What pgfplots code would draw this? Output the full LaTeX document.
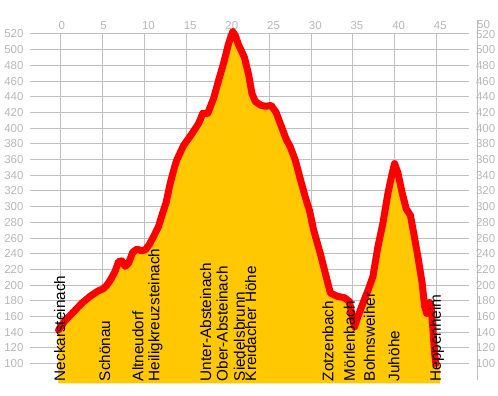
\documentclass[border=0pt]{standalone}
\usepackage{pgfplots}
\pgfplotsset{compat=1.18}
\usepackage{pgfplotstable}
\usepackage{fontspec}
\setmainfont{Liberation Sans}
\definecolor{gridc}{RGB}{192,192,192}
\definecolor{labc}{RGB}{184,184,184}
\definecolor{fillc}{RGB}{255,200,0}
\definecolor{linec}{RGB}{255,0,0}
\pgfplotstableread{
km elev
-0.3 143
0.5 155
1.5 166
2.5 177
3.5 186
4.5 193
5.0 195
5.5 200
6.0 208
6.5 218
6.9 230
7.3 231
7.7 224
8.1 228
8.6 242
9.1 246
9.6 244
10.1 245
10.6 252
11.1 262
11.7 275
12.1 289
12.6 305
13.1 330
13.6 350
13.9 360
14.7 378
15.7 393
16.5 406
17.0 419
17.6 419
18.3 438
18.9 461
19.5 483
20.1 508
20.6 523
20.9 518
21.3 506
22.0 490
22.5 468
22.9 444
23.3 434
24.0 429
24.6 428
25.2 429
25.8 420
26.4 403
27.0 386
27.5 376
28.1 359
28.7 335
29.3 312
29.8 295
30.3 270
31.1 240
31.7 215
32.3 190
33.1 186
34.0 184
34.6 179
35.0 155
35.2 147
35.6 160
36.2 177
36.9 196
37.4 211
38.0 249
38.6 279
39.2 317
39.7 342
40.0 355
40.4 343
40.9 318
41.4 297
41.9 289
42.3 266
42.8 236
43.3 203
43.6 173
43.85 164
44.2 178
44.4 172
44.6 143
44.8 113
44.95 100
}\profile
\begin{document}
\begin{tikzpicture}
\path[use as bounding box] (0,0) rectangle (498bp,396bp);
\begin{axis}[
  at={(30bp,12.7bp)}, anchor=south west,
  scale only axis, width=439.3bp, height=349.3bp,
  xmin=-3.717, xmax=48.96, ymin=75.03, ymax=520,
  clip=false,
  axis line style={draw=none},
  major tick length=0pt,
  xtick={0,5,...,45}, ytick={100,120,...,520},
  grid=major,
  major grid style={color=gridc, line width=1bp},
  xticklabel pos=upper,
  /pgf/number format/assume math mode=true,
  ticklabel style={font=\fontsize{11.5bp}{13bp}\selectfont, text=labc, inner sep=0pt},
  xticklabel style={anchor=base west, xshift=-2.5bp, yshift=4.7bp},
  yticklabel style={anchor=east, xshift=-6.3bp},
]
\addplot[fill=fillc, draw=none] table[x=km, y=elev] {\profile}
  -- (axis cs:45.45,100) -- (axis cs:45.45,75.03) -- (axis cs:-0.3,75.03) -- cycle;
\addplot[color=linec, line width=7bp, line join=round, line cap=round] table[x=km, y=elev] {\profile};
\draw[gridc, line width=1bp] (axis cs:49.9,79.2) -- (axis cs:49.9,537.8);
\node[anchor=base west, inner sep=0pt, text=labc, font=\fontsize{11.5bp}{13bp}\selectfont, xshift=-1bp, yshift=5.7bp] at (axis cs:50,520) {50};
\pgfplotsinvokeforeach{100,120,...,500}{
  \node[anchor=west, inner sep=0pt, text=labc, font=\fontsize{11.5bp}{13bp}\selectfont] at (axis cs:49.75,#1) {#1};
}
\node[anchor=west, inner sep=0pt, text=labc, font=\fontsize{11.5bp}{13bp}\selectfont, yshift=-0.8bp] at (axis cs:49.75,520) {520};
\foreach \xx/\name in {0.48/Neckarsteinach,5.88/Schönau,9.87/Altneudorf,11.8/Heiligkreuzsteinach,17.99/Unter-Absteinach,19.99/Ober-Absteinach,22.06/Siedelsbrunn,23.4/Kreidacher Höhe,32.65/Zotzenbach,35.25/Mörlenbach,37.65/Bohnsweiher,40.56/Juhöhe,45.56/Heppenheim}{
  \edef\temp{\noexpand\node[rotate=90, anchor=base west, inner sep=0pt, font=\noexpand\fontsize{15.3bp}{18bp}\noexpand\selectfont] at (axis cs:\xx,77.5) {\name};}
  \temp
}
\end{axis}
\end{tikzpicture}
\end{document}
